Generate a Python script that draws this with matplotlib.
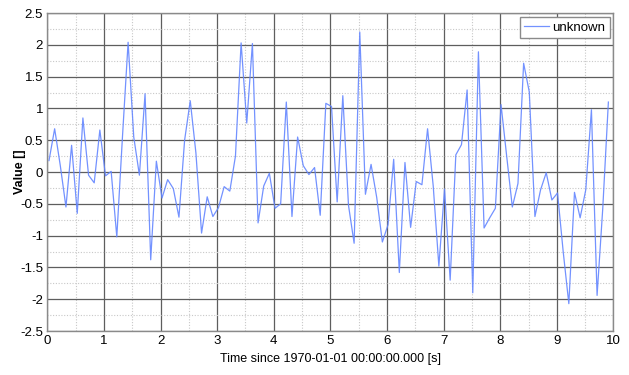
import numpy as np
import matplotlib
matplotlib.use("Agg")
import matplotlib.pyplot as plt
from matplotlib.ticker import MultipleLocator

# samples, one every 0.1 s
values = [
    0.18, 0.68, 0.10, -0.55, 0.42, -0.65, 0.85, -0.05, -0.17, 0.66,
    -0.06, 0.01, -1.02, 0.55, 2.04, 0.55, -0.05, 1.23, -1.38, 0.17,
    -0.41, -0.12, -0.26, -0.71, 0.50, 1.12, 0.30, -0.96, -0.39, -0.70,
    -0.56, -0.23, -0.30, 0.25, 2.03, 0.77, 2.02, -0.80, -0.22, -0.02,
    -0.57, -0.50, 1.10, -0.70, 0.55, 0.10, -0.04, 0.07, -0.68, 1.08,
    1.03, -0.47, 1.20, -0.52, -1.12, 2.20, -0.35, 0.12, -0.40, -1.10,
    -0.83, 0.20, -1.58, 0.15, -0.87, -0.15, -0.20, 0.68, -0.22, -1.48,
    -0.27, -1.70, 0.27, 0.43, 1.29, -1.90, 1.89, -0.88, -0.72, -0.57,
    1.06, 0.25, -0.55, -0.18, 1.71, 1.26, -0.70, -0.28, -0.01, -0.44,
    -0.33, -1.25, -2.07, -0.32, -0.72, -0.28, 0.98, -1.94, -0.58, 1.10,
]
t0 = 0.03
dt = 0.0998
times = t0 + dt * np.arange(len(values))

y_ticks = [-2.5, -2, -1.5, -1, -0.5, 0, 0.5, 1, 1.5, 2, 2.5]
y_labels = ["-2.5", "-2", "-1.5", "-1", "-0.5", "0", "0.5", "1", "1.5", "2", "2.5"]
x_ticks = list(range(0, 11))

plt.rcParams["font.family"] = ["Liberation Sans", "DejaVu Sans"]

fig = plt.figure(figsize=(6.29, 3.75), dpi=100)
ax = fig.add_axes([0.0752, 0.1173, 0.9001, 0.848])

ax.plot(times, values, color="#6486ff", linewidth=0.9, alpha=0.9, label="unknown")

ax.set_xlim(0, 10)
ax.set_ylim(-2.5, 2.5)
ax.set_xticks(x_ticks)
ax.set_yticks(y_ticks)
ax.set_yticklabels(y_labels)
ax.xaxis.set_minor_locator(MultipleLocator(0.5))
ax.yaxis.set_minor_locator(MultipleLocator(0.25))

ax.grid(True, which="major", color="#5e5e5e", linewidth=0.9, linestyle="-")
ax.grid(True, which="minor", color="#c8c8c8", linewidth=0.8, linestyle=(0, (1, 1.5)))
ax.set_axisbelow(True)
ax.tick_params(which="both", length=0, labelsize=9.5, pad=3)

for spine in ax.spines.values():
    spine.set_color("#8a8a8a")
    spine.set_linewidth(1.0)

ax.set_xlabel("Time since 1970-01-01 00:00:00.000 [s]", fontsize=9, labelpad=4)
ax.set_ylabel("Value []", fontsize=9, fontweight="bold")
ax.yaxis.set_label_coords(-0.038, 0.5)

leg = ax.legend(loc="upper right", fontsize=9.5, handlelength=1.9, handletextpad=0.2,
                borderaxespad=0.3, borderpad=0.35, fancybox=False, framealpha=1)
leg.get_frame().set_edgecolor("#8a8a8a")
leg.get_frame().set_linewidth(1.0)

fig.savefig("out.png", dpi=100)
